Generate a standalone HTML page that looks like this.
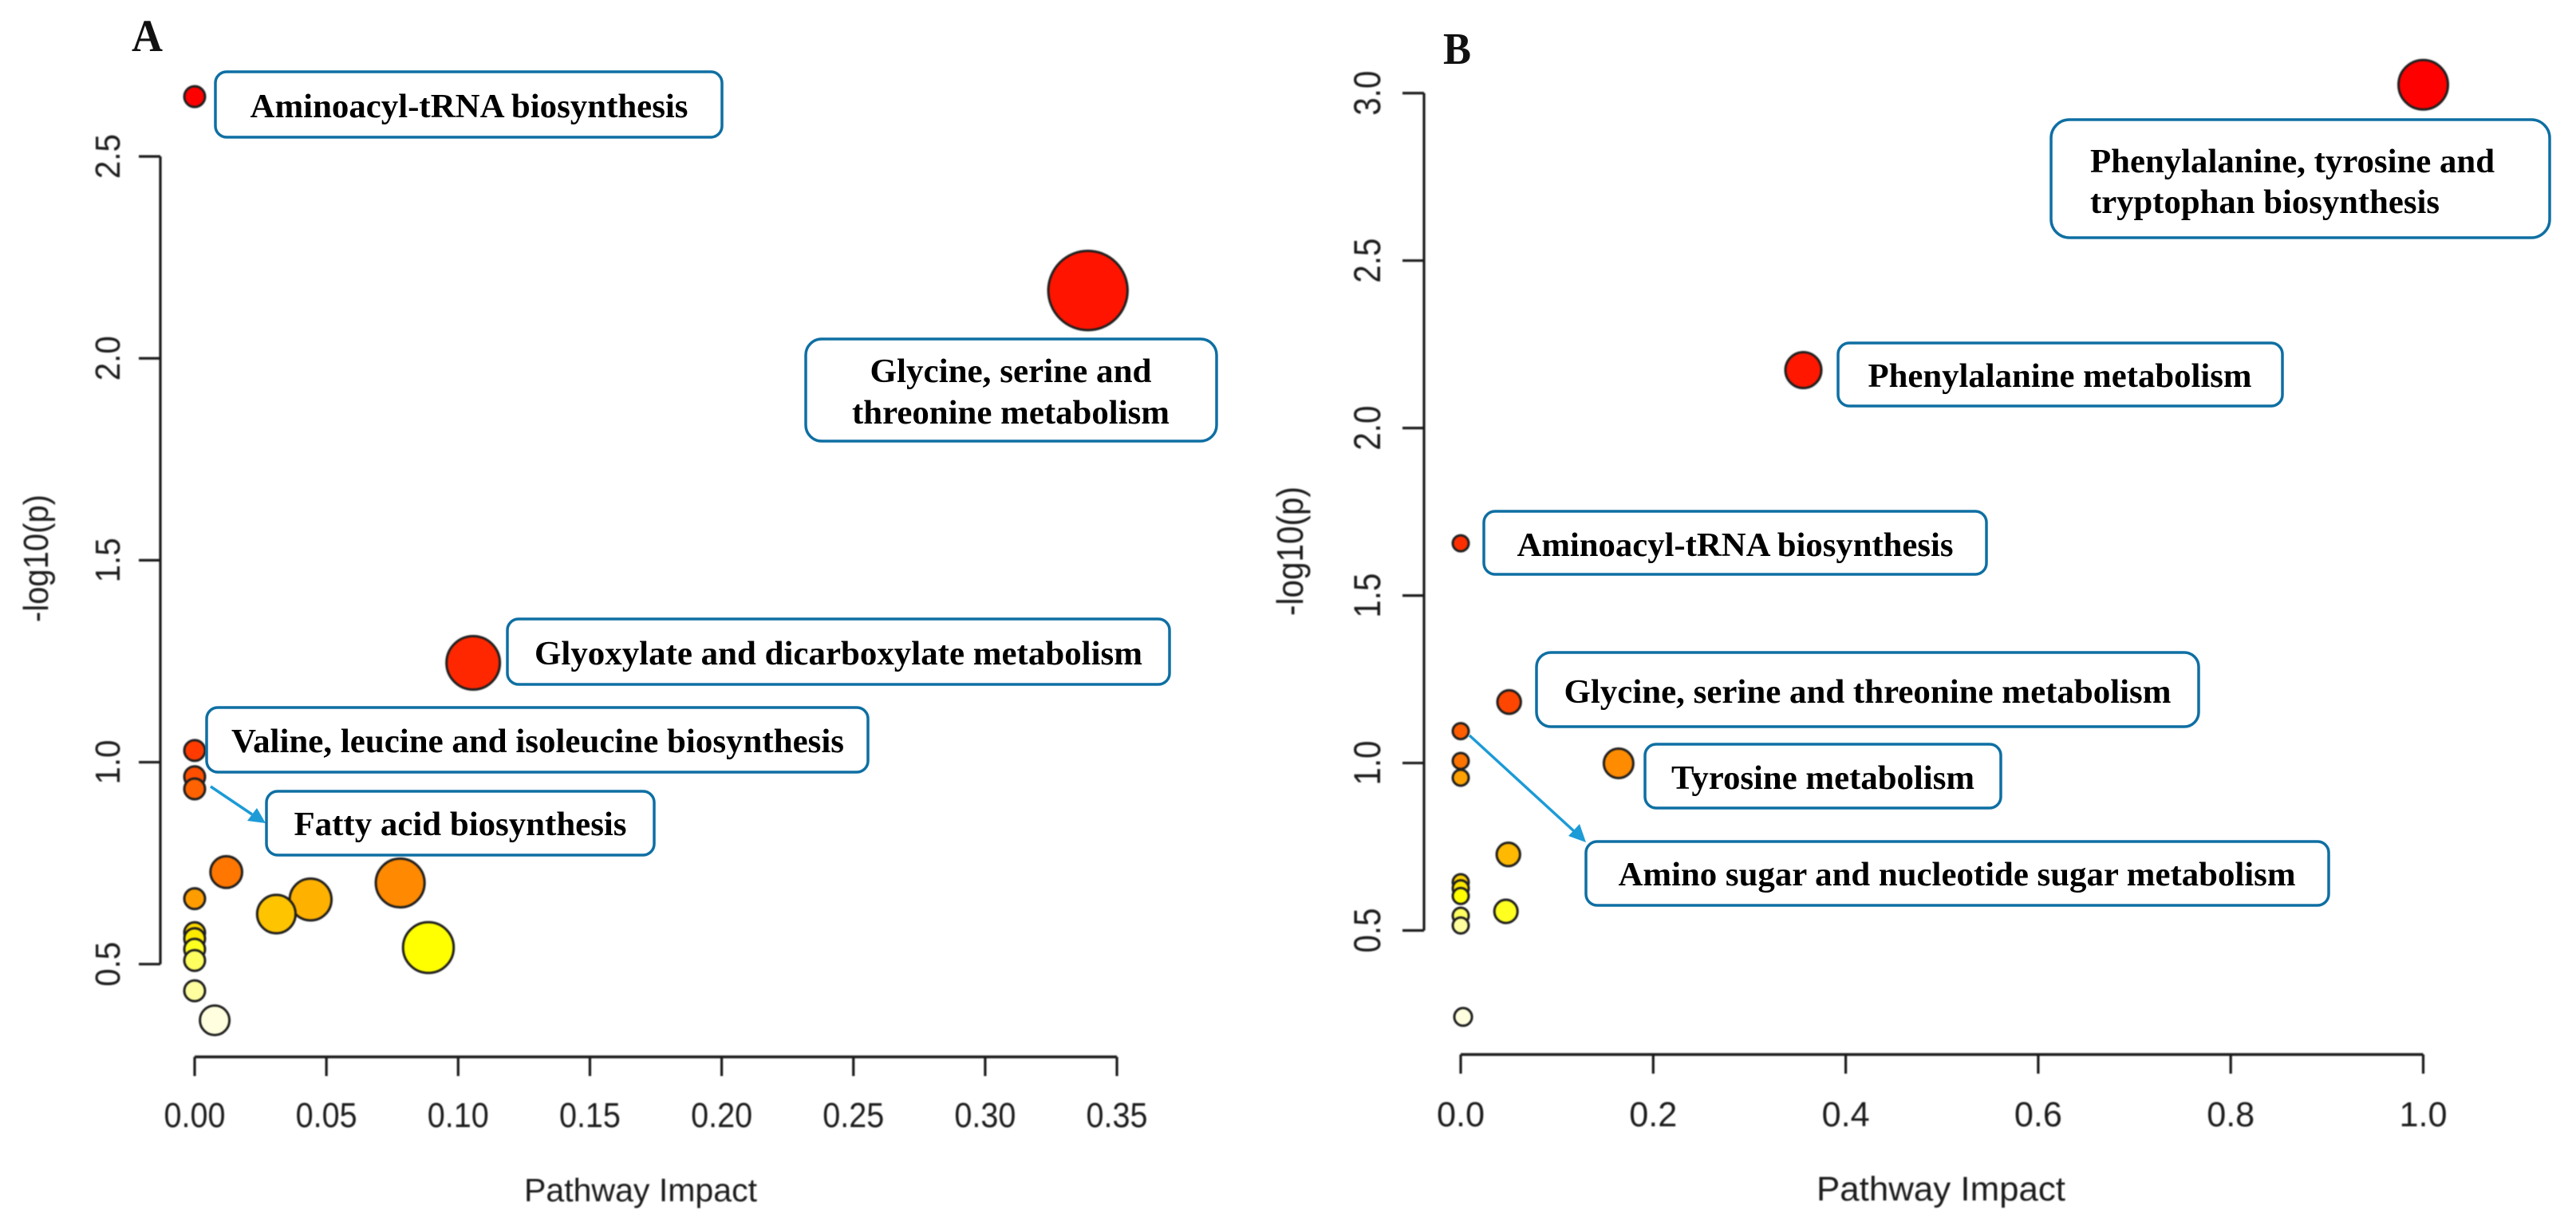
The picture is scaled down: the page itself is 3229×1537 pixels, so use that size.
<!DOCTYPE html>
<html lang="en">
<head>
<meta charset="utf-8">
<title>Pathway impact bubble charts</title>
<style>
  html, body { margin: 0; padding: 0; background: #ffffff; }
  body { width: 3229px; height: 1537px; overflow: hidden; }
  svg { display: block; }
  .soft { filter: blur(0.7px); }
  .tick-label, .axis-title { font-family: "Liberation Sans", sans-serif; fill: #1c1c1c; }
  .callout-box { fill: #ffffff; stroke: #0e6fa3; stroke-width: 3.5; }
  .callout-text { font-family: "Liberation Serif", serif; font-weight: bold; font-size: 42px; fill: #000000; }
  .panel-letter { font-family: "Liberation Serif", serif; font-weight: bold; fill: #111111; }
  .arrow-line { stroke: #1c9bd7; stroke-width: 3.5; fill: none; }
  .arrow-head { fill: #1c9bd7; }
</style>
</head>
<body>
<svg id="figure" xmlns="http://www.w3.org/2000/svg" width="3229" height="1537" viewBox="0 0 3229 1537">
  <rect x="0" y="0" width="3229" height="1537" fill="#ffffff"/>

  <text class="panel-letter" x="165" y="64" font-size="57" textLength="39" lengthAdjust="spacingAndGlyphs">A</text>
  <text class="panel-letter" x="1809" y="80" font-size="56" textLength="35" lengthAdjust="spacingAndGlyphs">B</text>

  <g id="panel-a" class="soft"></g>
  <g id="panel-b" class="soft"></g>

  <text class="axis-title soft" x="803" y="1506" font-size="41" text-anchor="middle" textLength="292" lengthAdjust="spacingAndGlyphs">Pathway Impact</text>
  <text class="axis-title soft" transform="translate(60 700) rotate(-90)" font-size="44" text-anchor="middle" textLength="160" lengthAdjust="spacingAndGlyphs">-log10(p)</text>
  <text class="axis-title soft" x="2433" y="1505" font-size="43" text-anchor="middle" textLength="312" lengthAdjust="spacingAndGlyphs">Pathway Impact</text>
  <text class="axis-title soft" transform="translate(1633 691) rotate(-90)" font-size="46" text-anchor="middle" textLength="162" lengthAdjust="spacingAndGlyphs">-log10(p)</text>

  <g>
    <rect class="callout-box" x="270" y="90" width="635" height="82" rx="14"/>
    <text class="callout-text" x="588" y="147" text-anchor="middle" textLength="549" lengthAdjust="spacingAndGlyphs">Aminoacyl-tRNA biosynthesis</text>

    <rect class="callout-box" x="1010" y="425" width="515" height="128" rx="20"/>
    <text class="callout-text" x="1267" y="479" text-anchor="middle" textLength="353" lengthAdjust="spacingAndGlyphs">Glycine, serine and</text>
    <text class="callout-text" x="1267" y="531" text-anchor="middle" textLength="398" lengthAdjust="spacingAndGlyphs">threonine metabolism</text>

    <rect class="callout-box" x="636" y="776" width="830" height="82" rx="14"/>
    <text class="callout-text" x="1051" y="833" text-anchor="middle" textLength="762" lengthAdjust="spacingAndGlyphs">Glyoxylate and dicarboxylate metabolism</text>

    <rect class="callout-box" x="259" y="887" width="829" height="81" rx="14"/>
    <text class="callout-text" x="674" y="943" text-anchor="middle" textLength="768" lengthAdjust="spacingAndGlyphs">Valine, leucine and isoleucine biosynthesis</text>

    <line class="arrow-line" x1="264" y1="986" x2="316" y2="1021"/>
    <polygon class="arrow-head" points="333,1032 310,1029 322,1013"/>
    <rect class="callout-box" x="334" y="992" width="486" height="80" rx="14"/>
    <text class="callout-text" x="577" y="1047" text-anchor="middle" textLength="417" lengthAdjust="spacingAndGlyphs">Fatty acid biosynthesis</text>
  </g>

  <g>
    <rect class="callout-box" x="2571" y="150" width="625" height="148" rx="23"/>
    <text class="callout-text" x="2620" y="216" textLength="507" lengthAdjust="spacingAndGlyphs">Phenylalanine, tyrosine and</text>
    <text class="callout-text" x="2620" y="267" textLength="438" lengthAdjust="spacingAndGlyphs">tryptophan biosynthesis</text>

    <rect class="callout-box" x="2304" y="430" width="557" height="79" rx="14"/>
    <text class="callout-text" x="2582" y="485" text-anchor="middle" textLength="481" lengthAdjust="spacingAndGlyphs">Phenylalanine metabolism</text>

    <rect class="callout-box" x="1860" y="641" width="630" height="79" rx="14"/>
    <text class="callout-text" x="2175" y="697" text-anchor="middle" textLength="547" lengthAdjust="spacingAndGlyphs">Aminoacyl-tRNA biosynthesis</text>

    <rect class="callout-box" x="1926" y="818" width="830" height="93" rx="18"/>
    <text class="callout-text" x="2341" y="881" text-anchor="middle" textLength="761" lengthAdjust="spacingAndGlyphs">Glycine, serine and threonine metabolism</text>

    <rect class="callout-box" x="2062" y="933" width="446" height="80" rx="14"/>
    <text class="callout-text" x="2285" y="989" text-anchor="middle" textLength="380" lengthAdjust="spacingAndGlyphs">Tyrosine metabolism</text>

    <line class="arrow-line" x1="1842" y1="922" x2="1973" y2="1042"/>
    <polygon class="arrow-head" points="1988,1056 1966,1048 1980,1033"/>
    <rect class="callout-box" x="1988" y="1055" width="931" height="80" rx="14"/>
    <text class="callout-text" x="2453" y="1110" text-anchor="middle" textLength="849" lengthAdjust="spacingAndGlyphs">Amino sugar and nucleotide sugar metabolism</text>
  </g>
</svg>

<script>
// Panel A data
var panelAImpact = [0, 0.339, 0.1057, 0, 0, 0, 0.012, 0.078, 0, 0.044, 0.031, 0, 0, 0.0887, 0, 0, 0, 0.0076];
var panelALogP = [2.648, 2.168, 1.246, 1.029, 0.964, 0.934, 0.728, 0.701, 0.662, 0.660, 0.624, 0.578, 0.563, 0.541, 0.537, 0.509, 0.434, 0.361];
var panelAXTicks = [0, 0.05, 0.10, 0.15, 0.20, 0.25, 0.30, 0.35];
var panelAXLabels = ["0.00", "0.05", "0.10", "0.15", "0.20", "0.25", "0.30", "0.35"];
var panelAYTicks = [0.5, 1.0, 1.5, 2.0, 2.5];
var panelAYLabels = ["0.5", "1.0", "1.5", "2.0", "2.5"];

// Panel B data
var panelBImpact = [1.0, 0.356, 0, 0.0503, 0, 0, 0.164, 0, 0.0495, 0, 0, 0, 0.047, 0, 0, 0.0025];
var panelBLogP = [3.025, 2.173, 1.656, 1.182, 1.095, 1.006, 0.999, 0.956, 0.727, 0.644, 0.626, 0.603, 0.557, 0.544, 0.515, 0.242];
var panelBXTicks = [0, 0.2, 0.4, 0.6, 0.8, 1.0];
var panelBXLabels = ["0.0", "0.2", "0.4", "0.6", "0.8", "1.0"];
var panelBYTicks = [0.5, 1.0, 1.5, 2.0, 2.5, 3.0];
var panelBYLabels = ["0.5", "1.0", "1.5", "2.0", "2.5", "3.0"];

var SVG_NS = "http://www.w3.org/2000/svg";

function make(parent, tag, attrs) {
  var node = document.createElementNS(SVG_NS, tag);
  for (var key in attrs) { node.setAttribute(key, attrs[key]); }
  parent.appendChild(node);
  return node;
}

function hueSatToHex(hueDeg, sat) {
  var g = Math.round(255 * (1 - sat * (1 - hueDeg / 60)));
  var b = Math.round(255 * (1 - sat));
  function h(v) { var s = v.toString(16); return s.length < 2 ? "0" + s : s; }
  return "#ff" + h(g) + h(b);
}

function heatColor(rank, count) {
  var k = Math.floor(count / 4);
  var j = count - k;
  if (rank < j) { return hueSatToHex(60 * rank / (j - 1), 1); }
  var s0 = 1 - 1 / (2 * k);
  var s1 = 1 / (2 * k);
  var s = k > 1 ? s0 + (s1 - s0) * (rank - j) / (k - 1) : s0;
  return hueSatToHex(60, s);
}

function drawPanel(cfg, impact, logP, xTicks, xLabels, yTicks, yLabels) {
  var root = document.getElementById(cfg.id);
  function xScale(v) { return cfg.x0 + v * cfg.xPerUnit; }
  function yScale(v) { return cfg.yBase - (v - 0.5) * cfg.yPerUnit; }
  function rScale(v) { return cfg.r0 + cfg.rK * Math.sqrt(v); }

  var yLine = make(root, "line", { x1: cfg.yAxisX, x2: cfg.yAxisX, y1: yScale(yTicks[0]), y2: yScale(yTicks[yTicks.length - 1]), stroke: "#1a1a1a", "stroke-width": 3.2 });
  
  

  yTicks.forEach(function (t, i) {
    var tick = make(root, "line", { x1: cfg.yAxisX - 27, x2: cfg.yAxisX, y1: yScale(t), y2: yScale(t), stroke: "#1a1a1a", "stroke-width": 3.2 });
    
    
    var label = make(root, "text", { "class": "tick-label", "text-anchor": "middle", "font-size": cfg.yFont, textLength: 56, lengthAdjust: "spacingAndGlyphs", transform: "translate(" + cfg.yLabelX + " " + yScale(t) + ") rotate(-90)" });
    label.textContent = yLabels[i];
    
    
  });

  var xLine = make(root, "line", { x1: xScale(xTicks[0]), x2: xScale(xTicks[xTicks.length - 1]), y1: cfg.xAxisY, y2: cfg.xAxisY, stroke: "#1a1a1a", "stroke-width": 3.5 });
  
  

  xTicks.forEach(function (t, i) {
    var tick = make(root, "line", { x1: xScale(t), x2: xScale(t), y1: cfg.xAxisY, y2: cfg.xAxisY + 24, stroke: "#1a1a1a", "stroke-width": 3.2 });
    
    
    var label = make(root, "text", { "class": "tick-label", x: xScale(t), y: cfg.xLabelY, "text-anchor": "middle", "font-size": 44, textLength: cfg.xLabelWidth, lengthAdjust: "spacingAndGlyphs" });
    label.textContent = xLabels[i];
    
    
  });

  var order = logP.map(function (v, i) { return i; }).sort(function (a, b) { return logP[b] - logP[a]; });
  order.forEach(function (idx, rank) {
    var dot = make(root, "circle", { cx: xScale(impact[idx]), cy: yScale(logP[idx]), r: rScale(impact[idx]), fill: heatColor(rank, logP.length), stroke: "#1f1f1f", "stroke-width": 3 });
    
    
  });
}

drawPanel({ id: "panel-a", x0: 244, xPerUnit: 3303, yBase: 1208.7, yPerUnit: 506.3, r0: 13, rK: 63, yAxisX: 201, yLabelX: 150, yFont: 44, xAxisY: 1325, xLabelY: 1413, xLabelWidth: 77 },
  panelAImpact, panelALogP, panelAXTicks, panelAXLabels, panelAYTicks, panelAYLabels);

drawPanel({ id: "panel-b", x0: 1831, xPerUnit: 1206.5, yBase: 1166.5, yPerUnit: 419.9, r0: 10, rK: 21, yAxisX: 1785, yLabelX: 1730, yFont: 47, xAxisY: 1322, xLabelY: 1412, xLabelWidth: 60 },
  panelBImpact, panelBLogP, panelBXTicks, panelBXLabels, panelBYTicks, panelBYLabels);
</script>
</body>
</html>
